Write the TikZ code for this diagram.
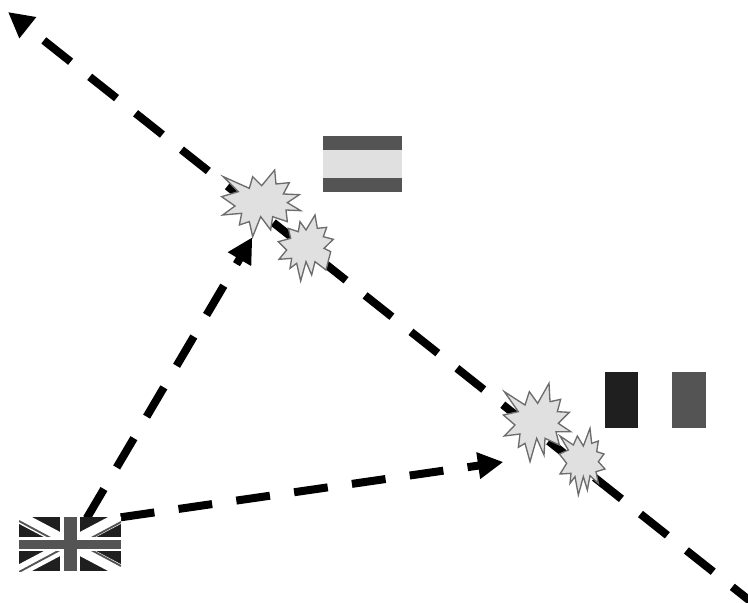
\documentclass[tikz,border=0pt]{standalone}
\usetikzlibrary{arrows.meta}
\definecolor{fdark}{gray}{0.33}
\definecolor{fblack}{gray}{0.12}
\definecolor{flight}{gray}{0.88}
\tikzset{
  route/.style={line width=6pt,draw=black},
  headend/.style={-{Triangle[length=19pt,width=19pt]}},
  headstart/.style={{Triangle[length=19pt,width=19pt]}-},
  burst/.style={draw=gray!85!black,line width=1pt,fill=flight,miter limit=10,line join=miter},
  zoomone/.style={shift={(200,120)},x=.25pt,y=-.25pt},
  zoomtwo/.style={shift={(470,360)},x=.25pt,y=-.25pt}
}
\begin{document}
\begin{tikzpicture}[x=.75pt,y=-.75pt]
\useasboundingbox (0,0) rectangle (748,602);
\coordinate (far) at (752,602.5);
\coordinate (farTip) at (8,12);
\coordinate (ukNorth) at (86.7,518.3);
\coordinate (ukEast) at (120.7,517.3);
\coordinate (tipUpper) at (252.3,237.3);
\coordinate (tipLower) at (503.3,462);
% connectors
\draw[route,headstart,dash pattern=on 25.7pt off 18.25pt,dash phase=27.5pt] (farTip) -- (far);
\draw[route,headend,dash pattern=on 25.5pt off 18.75pt] (ukNorth) -- (tipUpper);
\draw[route,headend,dash pattern=on 25.5pt off 18.3pt] (ukEast) -- (tipLower);
% UK flag
\begin{scope}
\clip (19,517) rectangle (121,571);
\fill[fblack] (19,517) rectangle (121,571);
\draw[white,line width=9pt] (19,517) -- (121,571) (19,571) -- (121,517);
\draw[fdark,line width=1.4pt] (19,521) -- (60,543) (80,544) -- (121,566);
\draw[fdark,line width=1.4pt] (19,572) -- (60,550) (80,544) -- (121,522);
\fill[white] (19,537) rectangle (121,551);
\fill[white] (60,517) rectangle (80,571);
\fill[fdark] (19,540) rectangle (121,549.3);
\fill[fdark] (63.5,517) rectangle (76.5,571);
\end{scope}
% upper flag
\fill[fdark] (323,136) rectangle (402,192);
\fill[flight] (323,150) rectangle (402,178);
% right flag
\fill[fblack] (605,372) rectangle (638,428);
\fill[fdark] (672,372) rectangle (706,428);
% bursts
\begin{scope}[zoomone]
\draw[burst] (70,170)--(148,205)--(158,170)--(185,197)--(224,150)--(228,192)--(268,188)--(250,222)--(298,224)--(262,248)--(302,272)--(258,270)--(262,305)--(218,290)--(212,330)--(182,290)--(158,350)--(148,305)--(118,315)--(125,280)--(68,285)--(105,258)--(65,230)--(115,215)--cycle;
\draw[burst] (345,285)--(352,325)--(380,322)--(370,350)--(400,358)--(372,385)--(392,395)--(378,450)--(345,425)--(335,465)--(318,425)--(302,483)--(290,430)--(270,445)--(275,415)--(237,418)--(260,390)--(235,365)--(272,355)--(265,325)--(295,335)--(300,305)--(318,330)--cycle;
\end{scope}
\begin{scope}[zoomtwo]
\draw[burst] (103,95)--(165,135)--(178,95)--(203,130)--(237,70)--(240,125)--(272,118)--(262,155)--(298,157)--(265,190)--(302,215)--(258,215)--(268,255)--(225,235)--(222,285)--(200,235)--(180,305)--(165,250)--(145,262)--(150,222)--(103,228)--(135,195)--(100,165)--(145,155)--cycle;
\draw[burst] (360,205)--(365,250)--(385,243)--(380,275)--(402,282)--(385,305)--(405,327)--(378,335)--(385,370)--(360,347)--(352,390)--(340,350)--(325,405)--(315,350)--(300,370)--(303,340)--(270,342)--(290,310)--(268,282)--(295,270)--(270,228)--(310,255)--(322,228)--(340,258)--cycle;
\end{scope}
\end{tikzpicture}
\end{document}
